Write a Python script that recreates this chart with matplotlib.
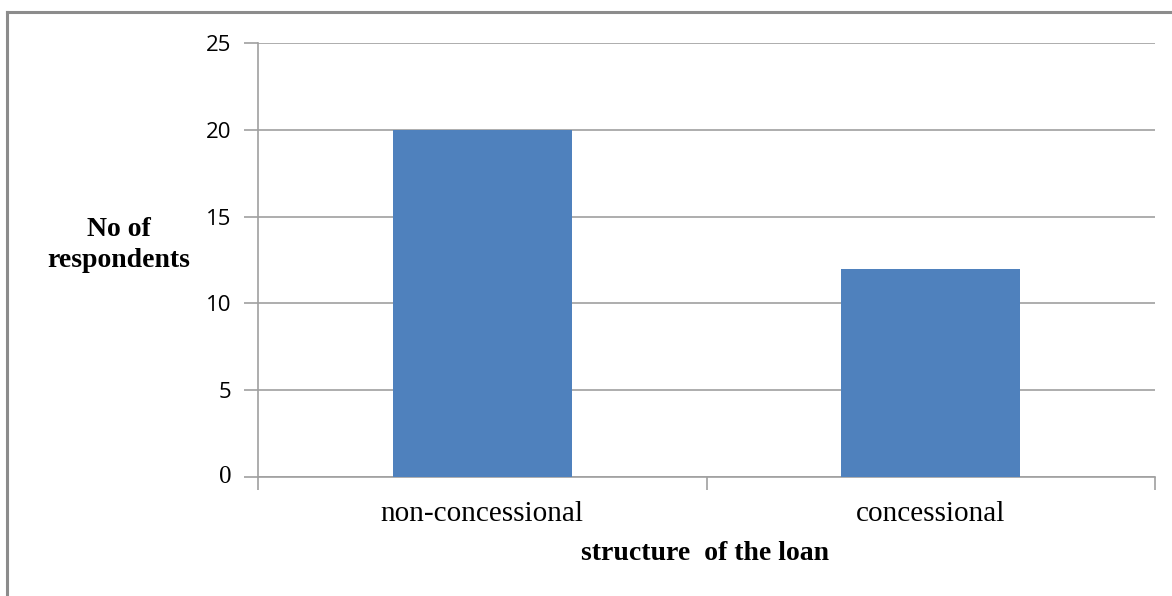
import matplotlib
matplotlib.use("Agg")
import matplotlib.pyplot as plt
from matplotlib.lines import Line2D

categories = ["non-concessional", "concessional"]
values = [20, 12]
yticks = [0, 5, 10, 15, 20, 25]

fig = plt.figure(figsize=(11.72, 5.96), dpi=100)
ax = fig.add_axes([258/1172, 1 - 477/596, (1155-258)/1172, (477-43)/596])

x = list(range(len(categories)))
ax.bar(x, values, width=0.4, color="#4F81BD", zorder=3)
ax.set_xlim(-0.5, len(categories) - 0.5)
ax.set_ylim(0, 25)

ax.set_yticks(yticks)
ax.set_yticklabels(["" if t == 0 else str(t) for t in yticks],
                   fontfamily="Open Sans", fontsize=16)
# zero label drawn in serif as in the reference
ax.annotate("0", xy=(0, 0), xycoords=("axes fraction", "data"),
            xytext=(-19, 0), textcoords="offset points", ha="right", va="center",
            fontfamily="Liberation Serif", fontsize=18)
ax.yaxis.grid(True, color="#A0A0A0", linewidth=1.2, zorder=0)

ax.set_xticks([-0.5, 0.5, 1.5], minor=False)
ax.set_xticklabels([])
ax.set_xticks(x, minor=True)
ax.set_xticklabels(categories, minor=True, fontfamily="Liberation Serif", fontsize=21)
ax.tick_params(axis="x", which="minor", length=0, pad=17)
ax.tick_params(axis="x", which="major", length=9, color="#A0A0A0", width=1.2)
ax.tick_params(axis="y", length=10, color="#A0A0A0", width=1.2, pad=9)

for s in ["top", "right"]:
    ax.spines[s].set_visible(False)
for s in ["left", "bottom"]:
    ax.spines[s].set_color("#A0A0A0")
    ax.spines[s].set_linewidth(1.2)

fig.text(119/1172, 1 - 245/596, "No of\nrespondents", ha="center", va="center",
         fontfamily="Liberation Serif", fontweight="bold", fontsize=20, linespacing=1.35)
fig.text(705/1172, 1 - 553/596, "structure  of the loan", ha="center", va="center",
         fontfamily="Liberation Serif", fontweight="bold", fontsize=20)

# outer chart border
fig.add_artist(Line2D([7/1172, 7/1172], [0, 1 - 12/596], transform=fig.transFigure,
                      color="#8C8C8C", linewidth=2.2))
fig.add_artist(Line2D([7/1172, 1], [1 - 12/596, 1 - 12/596], transform=fig.transFigure,
                      color="#8C8C8C", linewidth=2.2))

fig.savefig("out.png", dpi=100)
